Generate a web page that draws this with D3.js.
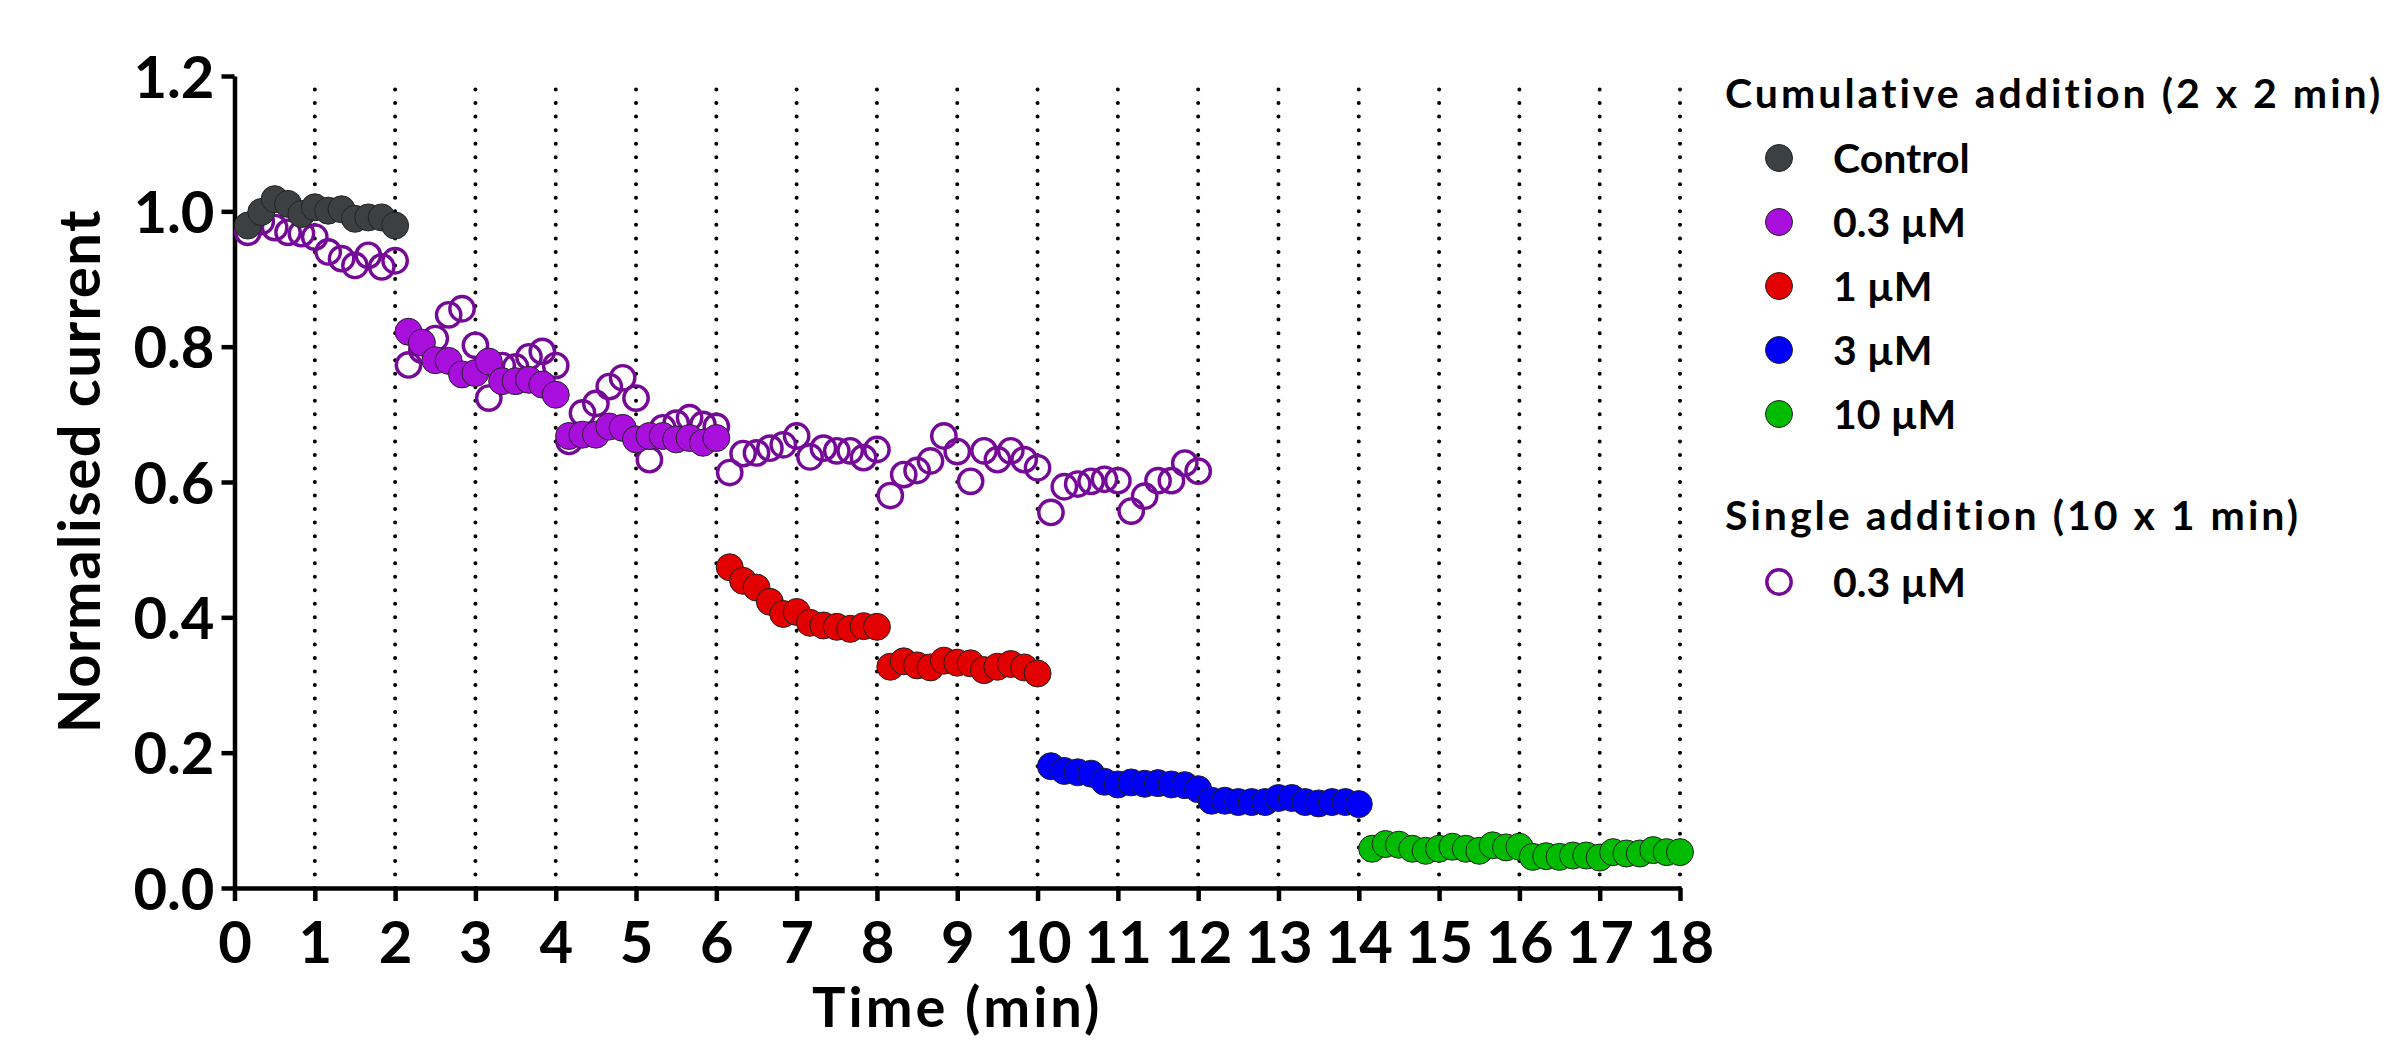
<!DOCTYPE html>
<html>
<head>
<meta charset="utf-8">
<script src="https://cdn.jsdelivr.net/npm/d3@7"></script>
<style>
  body { margin: 0; background: #fff; }
  text { font-family: Lato, "Open Sans", sans-serif; font-weight: 700; fill: #000; }
</style>
</head>
<body>
<script>
// sampling interval of the recording: 10 s = 1/6 min
var step = 1 / 6;

var xTicks = d3.range(0, 19);
var yTicks = [0, 0.2, 0.4, 0.6, 0.8, 1.0, 1.2];

// cumulative addition (2 x 2 min), filled symbols
var control = [0.979, 0.999, 1.018, 1.011, 0.996, 1.006, 1.001, 1.003, 0.989, 0.991, 0.991, 0.979];
var cum03 = [0.822, 0.806, 0.780, 0.779, 0.759, 0.761, 0.778, 0.749, 0.749, 0.751, 0.744, 0.729,
             0.668, 0.670, 0.670, 0.682, 0.680, 0.663, 0.668, 0.668, 0.663, 0.665, 0.658, 0.665];
var cum1 = [0.474, 0.454, 0.444, 0.423, 0.405, 0.408, 0.392, 0.388, 0.386, 0.383, 0.387, 0.386,
            0.327, 0.335, 0.329, 0.326, 0.336, 0.333, 0.332, 0.322, 0.327, 0.331, 0.326, 0.317];
var cum3 = [0.180, 0.173, 0.171, 0.169, 0.157, 0.153, 0.156, 0.154, 0.155, 0.153, 0.152, 0.146,
            0.129, 0.129, 0.127, 0.127, 0.127, 0.133, 0.133, 0.127, 0.125, 0.127, 0.127, 0.124];
var cum10 = [0.058, 0.065, 0.064, 0.058, 0.055, 0.058, 0.061, 0.058, 0.055, 0.063, 0.060, 0.061,
             0.046, 0.047, 0.046, 0.048, 0.048, 0.045, 0.053, 0.051, 0.051, 0.056, 0.053, 0.053];

// single addition (10 x 1 min), open symbols
var single03 = [0.969, 0.985, 0.976, 0.969, 0.967, 0.962, 0.940, 0.930, 0.920, 0.935, 0.918, 0.927,
                0.773, 0.795, 0.812, 0.847, 0.856, 0.802, 0.724, 0.772, 0.770, 0.785, 0.793, 0.772,
                0.660, 0.702, 0.716, 0.741, 0.754, 0.724, 0.633, 0.680, 0.687, 0.695, 0.685, 0.682,
                0.614, 0.642, 0.643, 0.650, 0.655, 0.668, 0.637, 0.650, 0.646, 0.646, 0.636, 0.648,
                0.580, 0.611, 0.617, 0.631, 0.668, 0.645, 0.601, 0.646, 0.633, 0.646, 0.633, 0.621,
                0.555, 0.593, 0.597, 0.601, 0.604, 0.602, 0.557, 0.579, 0.602, 0.602, 0.628, 0.616];

var cumLabels = ["Control", "0.3 \u00b5M", "1 \u00b5M", "3 \u00b5M", "10 \u00b5M"];
var cumColors = ["#3c4043", "#a80fdd", "#e20000", "#0000fa", "#00bb00"];
var cumStarts = [0, 2, 6, 10, 14];
var cumSeries = [control, cum03, cum1, cum3, cum10];
var singleLabels = ["0.3 \u00b5M"];
var singleColor = "#760a98";

var width = 2389, height = 1040;

var svg = d3.select("body").append("svg")
  .attr("width", width)
  .attr("height", height);

var x = d3.scaleLinear().domain([0, 18]).range([234.5, 1680]);
var y = d3.scaleLinear().domain([0, 1.2]).range([888, 76]);

// dotted vertical lines every minute
svg.append("g").selectAll("line")
  .data(xTicks.slice(1))
.enter()
  .append("line")
  .attr("x1", function(d) { return x(d); })
  .attr("x2", function(d) { return x(d); })
  .attr("y1", y(0))
  .attr("y2", y(1.2))
  .attr("stroke", "#000")
  .attr("stroke-width", 4)
  .attr("stroke-linecap", "round")
  .attr("stroke-dasharray", "0," + ((y(0) - y(1.2)) / 60));

// axes
var xAxis = svg.append("g")
  .attr("transform", "translate(0," + y(0) + ")")
  .call(d3.axisBottom(x).tickValues(xTicks).tickSize(13).tickSizeOuter(0));
xAxis.selectAll("text")
  .attr("y", 75).attr("dy", null)
  .style("font-size", "58px");

var yAxis = svg.append("g")
  .attr("transform", "translate(" + x(0) + ",0)")
  .call(d3.axisLeft(y).tickValues(yTicks).tickFormat(d3.format(".1f")).tickSize(13).tickSizeOuter(0));
yAxis.selectAll("text")
  .attr("x", -20).attr("y", 21).attr("dy", null)
  .style("font-size", "58px");

svg.selectAll(".domain, .tick line")
  .attr("stroke", "#000")
  .attr("stroke-width", 4.5);

// axis titles
svg.append("text")
  .attr("x", (x(0) + x(18)) / 2)
  .attr("y", 1027)
  .attr("text-anchor", "middle")
  .style("font-size", "56px")
  .style("letter-spacing", "3px")
  .text("Time (min)");

svg.append("text")
  .attr("transform", "translate(100,471) rotate(-90)")
  .attr("text-anchor", "middle")
  .style("font-size", "58px")
  .style("letter-spacing", "1.5px")
  .text("Normalised current");

// open circles first, filled on top
svg.append("g").selectAll("circle")
  .data(single03)
.enter()
  .append("circle")
  .attr("cx", function(d, i) { return x((i + 1) * step); })
  .attr("cy", function(d) { return y(d); })
  .attr("r", 12.2)
  .attr("fill", "none")
  .attr("stroke", singleColor)
  .attr("stroke-width", 3.4);

cumSeries.forEach(function(vals, k) {
  svg.append("g").selectAll("circle")
    .data(vals)
  .enter()
    .append("circle")
    .attr("cx", function(d, i) { return x(cumStarts[k] + (i + 1) * step); })
    .attr("cy", function(d) { return y(d); })
    .attr("r", 13.5)
    .attr("fill", cumColors[k])
    .attr("stroke", "#222")
    .attr("stroke-width", 1);
});

// legend
var legend = svg.append("g");
legend.append("text")
  .attr("x", 1725).attr("y", 108)
  .style("font-size", "41px")
  .style("letter-spacing", "3px")
  .text("Cumulative addition (2 x 2 min)");

var items = legend.selectAll(".cum")
  .data(cumLabels)
.enter()
  .append("g")
  .attr("class", "cum")
  .attr("transform", function(d, i) { return "translate(0," + (158 + i * 64) + ")"; });
items.append("circle")
  .attr("cx", 1779).attr("cy", 0).attr("r", 13.5)
  .attr("fill", function(d, i) { return cumColors[i]; })
  .attr("stroke", "#222").attr("stroke-width", 1);
items.append("text")
  .attr("x", 1833).attr("y", 15)
  .style("font-size", "41px")
  .text(function(d) { return d; });

legend.append("text")
  .attr("x", 1725).attr("y", 530)
  .style("font-size", "41px")
  .style("letter-spacing", "3px")
  .text("Single addition (10 x 1 min)");

var sItems = legend.selectAll(".single")
  .data(singleLabels)
.enter()
  .append("g")
  .attr("class", "single")
  .attr("transform", function(d, i) { return "translate(0," + (582 + i * 64) + ")"; });
sItems.append("circle")
  .attr("cx", 1779).attr("cy", 0).attr("r", 12.2)
  .attr("fill", "none")
  .attr("stroke", singleColor).attr("stroke-width", 3.4);
sItems.append("text")
  .attr("x", 1833).attr("y", 15)
  .style("font-size", "41px")
  .text(function(d) { return d; });
</script>
</body>
</html>
